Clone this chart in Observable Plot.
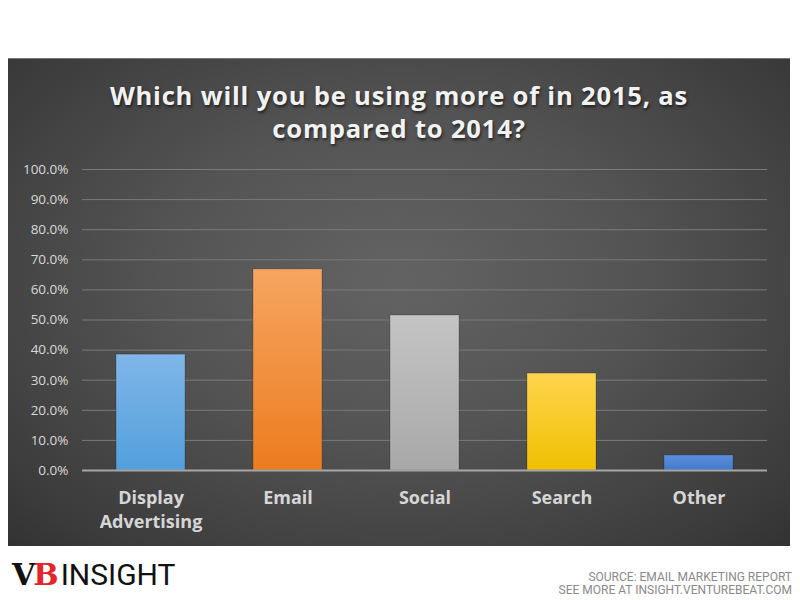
<!DOCTYPE html>
<html>
<head>
<meta charset="utf-8">
<script src="https://cdn.jsdelivr.net/npm/d3@7"></script>
<script src="https://cdn.jsdelivr.net/npm/@observablehq/plot@0.6"></script>
<style>
  html, body { margin: 0; padding: 0; background: #ffffff; width: 800px; height: 600px; overflow: hidden; }
  #panel {
    position: absolute; left: 8px; top: 58px; width: 782px; height: 487px;
    background: radial-gradient(ellipse 75% 80% at 50% 45%, #636363 0%, #545454 40%, #3a3a3a 85%, #2f2f2f 100%);
    border-top: 1px solid #777;
  }
  #title {
    position: absolute; left: 0; top: 20px; width: 782px; text-align: center;
    font-family: "Open Sans", Lato, sans-serif; font-weight: 700; font-size: 25.6px; line-height: 33px;
    color: #f2f2f2; letter-spacing: 0.8px; text-shadow: 1px 2px 3px rgba(0,0,0,0.6);
  }
  #chart { position: absolute; left: 0; top: 92px; }
  #logo { position: absolute; left: 12px; top: 559px; font-size: 30px; line-height: 32px; white-space: nowrap; }
  #logo .vb { font-family: "DejaVu Serif", serif; font-weight: 900; color: #111; letter-spacing: -2px; }
  #logo .b { color: #e3262b; }
  #logo .ins { font-family: "Liberation Sans Narrow", "Roboto", sans-serif; color: #111; margin-left: 4px; font-size: 30px; }
  #source {
    position: absolute; right: 8px; top: 571px; text-align: right; white-space: nowrap;
    font-family: "Liberation Sans Narrow", Roboto, sans-serif; font-size: 12px; line-height: 13px; color: #8a8a8a;
  }
</style>
</head>
<body>
<div id="panel">
  <div id="title">Which will you be using more of in 2015, as<br>compared to 2014?</div>
  <div id="chart"></div>
</div>
<div id="logo"><span class="vb">V<span class="b">B</span></span><span class="ins">INSIGHT</span></div>
<div id="source">SOURCE: EMAIL MARKETING REPORT<br>SEE MORE AT INSIGHT.VENTUREBEAT.COM</div>
<script>
const categories = ["Display Advertising", "Email", "Social", "Search", "Other"];
const values = [38.5, 66.8, 51.5, 32.2, 5.0];
const yTicks = [0, 10, 20, 30, 40, 50, 60, 70, 80, 90, 100];
const labels = {"Display Advertising": "Display\nAdvertising", "Email": "Email", "Social": "Social", "Search": "Search", "Other": "Other"};
const gradIds = ["gBlue", "gOrange", "gGray", "gYellow", "gBlue2"];
const gradStops = [
  ["#80b6e8", "#529fdc"],
  ["#f6a560", "#ec7c1e"],
  ["#c4c4c4", "#a8a8a8"],
  ["#ffd44e", "#f0c000"],
  ["#5a90dc", "#4479cc"]
];

const data = categories.map((c, i) => ({cat: c, value: values[i], fill: `url(#${gradIds[i]})`}));

const chart = Plot.plot({
  width: 782,
  height: 390,
  marginLeft: 74,
  marginRight: 23,
  marginTop: 18,
  marginBottom: 71,
  style: {background: "transparent", overflow: "visible"},
  x: {domain: categories, paddingInner: 0.5, paddingOuter: 0.25, label: null},
  y: {domain: [0, 100], label: null},
  marks: [
    Plot.gridY(yTicks, {stroke: "#7a7a7a", strokeOpacity: 1, strokeWidth: 1}),
    Plot.axisY(yTicks, {
      tickSize: 0, tickPadding: 14, tickFormat: d => d.toFixed(1) + "%",
      fill: "#d9d9d9", fontSize: 13.5, fontFamily: "Open Sans, sans-serif", label: null
    }),
    Plot.barY(data, {x: "cat", y: "value", fill: "fill", stroke: "rgba(0,0,0,0.25)", strokeWidth: 0.8}),
    Plot.ruleY([0], {stroke: "#a6a6a6", strokeWidth: 2}),
    Plot.axisX({
      tickSize: 0, tickPadding: 16, tickFormat: d => labels[d],
      fill: "#d6d6d6", fontSize: 18, fontWeight: "bold", fontFamily: "Open Sans, sans-serif",
      lineHeight: 1.35, label: null
    })
  ]
});

const ns = "http://www.w3.org/2000/svg";
const defs = document.createElementNS(ns, "defs");
gradIds.forEach((id, i) => {
  const lg = document.createElementNS(ns, "linearGradient");
  lg.setAttribute("id", id);
  lg.setAttribute("x1", "0"); lg.setAttribute("y1", "0");
  lg.setAttribute("x2", "0"); lg.setAttribute("y2", "1");
  [[0, gradStops[i][0]], [1, gradStops[i][1]]].forEach(([o, c]) => {
    const s = document.createElementNS(ns, "stop");
    s.setAttribute("offset", o);
    s.setAttribute("stop-color", c);
    lg.appendChild(s);
  });
  defs.appendChild(lg);
});
chart.insertBefore(defs, chart.firstChild);
document.getElementById("chart").appendChild(chart);
</script>
</body>
</html>
